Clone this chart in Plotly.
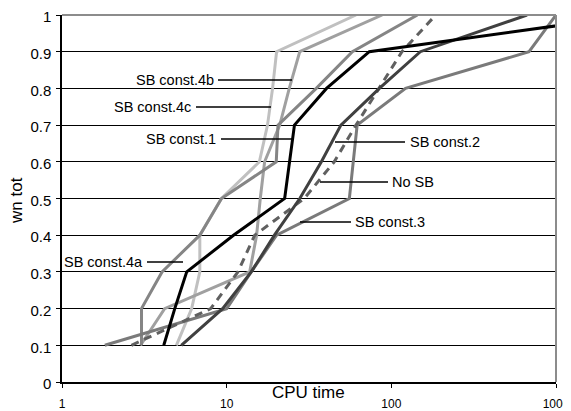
import plotly.graph_objects as go

# ---- data ----
y_levels = [0.1, 0.2, 0.3, 0.4, 0.5, 0.6, 0.7, 0.8, 0.9, 1.0]

sb_const1 = [4.15, 4.84, 5.72, 11.0, 22.5, 24.1, 25.8, 40.4, 73.5, 3000]
sb_const2 = [5.3, 9.45, 14.1, 19.5, 27.8, 37.6, 49.4, 84.6, 150, 667]
sb_const3 = [1.82, 10.0, 14.1, 20.1, 55.6, 58.8, 62, 122, 686, 1000]
no_sb = [2.64, 8.0, 11.7, 14.8, 29.6, 45, 61, 84, 116, 186]
sb_const4a = [3.04, 3.04, 4.05, 6.87, 9.3, 20.0, 20.5, 35, 58, 144]
sb_const4b = [3.0, 4.2, 13.8, 15.2, 16.0, 17.0, 21.0, 24.0, 27.8, 88]
sb_const4c = [4.95, 6.13, 6.87, 6.87, 9.3, 15.8, 17.7, 19.0, 20.1, 61]

x_tick_vals = [1, 10, 100, 1000]
x_tick_text = ["1", "10", "100", "1000"]

series = [
    ("SB const.4c", sb_const4c, "#c0c0c0", "solid"),
    ("SB const.4b", sb_const4b, "#a0a0a0", "solid"),
    ("SB const.4a", sb_const4a, "#858585", "solid"),
    ("SB const.3", sb_const3, "#7a7a7a", "solid"),
    ("No SB", no_sb, "#606060", "8px,6px"),
    ("SB const.2", sb_const2, "#404040", "solid"),
    ("SB const.1", sb_const1, "#000000", "solid"),
]

fig = go.Figure()
for name, xs, color, dash in series:
    fig.add_trace(go.Scatter(
        x=xs, y=y_levels, mode="lines", name=name,
        line=dict(color=color, width=3, dash=dash),
        showlegend=False,
    ))

# The page body has an 8px margin, so the figure is drawn 8px in from the
# window's top-left corner.  Plot area below is in window pixels.
OFF = 8
WIN_W, WIN_H = 571, 411
L, R, T, B = 62, 556, 15, 382
W, H = WIN_W - OFF, WIN_H - OFF


def xp(px):
    return (px - L) / (R - L)


def yp(py):
    return (B - py) / (B - T)


# labels: (text, anchor_px, py, align, leader_x0, leader_x1)
labels = [
    ("SB const.4b", 216, 80, "right", 218, 292),
    ("SB const.4c", 193, 107, "right", 196, 271),
    ("SB const.1", 218, 139, "right", 221, 293),
    ("SB const.2", 408, 142, "left", 335, 405),
    ("No SB", 390, 182, "left", 320, 388),
    ("SB const.3", 353, 222, "left", 300, 351),
    ("SB const.4a", 145, 262, "right", 147, 183),
]

shapes = []
annotations = []
for text, ax_px, py, align, x0, x1 in labels:
    annotations.append(dict(
        text=text, xref="paper", yref="paper", x=xp(ax_px), y=yp(py),
        xanchor=align, yanchor="middle", showarrow=False,
        font=dict(size=14.5, color="#000000"),
    ))
    shapes.append(dict(
        type="line", xref="paper", yref="paper",
        x0=xp(x0), x1=xp(x1), y0=yp(py), y1=yp(py),
        line=dict(color="#000000", width=1.5),
    ))

# top and right border (gray)
shapes.append(dict(type="line", xref="paper", yref="paper", x0=0, x1=1, y0=1, y1=1,
                   line=dict(color="#8c8c8c", width=2)))
shapes.append(dict(type="line", xref="paper", yref="paper", x0=1, x1=1, y0=0, y1=1,
                   line=dict(color="#8c8c8c", width=2)))

annotations.append(dict(
    text="CPU time", xref="paper", yref="paper", x=xp(308), y=yp(393),
    xanchor="center", yanchor="middle", showarrow=False,
    font=dict(size=17, color="#000000"),
))
annotations.append(dict(
    text="wn tot", xref="paper", yref="paper", x=xp(17), y=yp(201),
    xanchor="center", yanchor="middle", showarrow=False, textangle=-90,
    font=dict(size=17, color="#000000"),
))

fig.update_layout(
    template="none",
    width=W, height=H,
    margin=dict(l=L - OFF, r=WIN_W - R, t=T - OFF, b=WIN_H - B, autoexpand=False),
    paper_bgcolor="white", plot_bgcolor="white",
    font=dict(family="Liberation Sans, Arial, sans-serif", color="#000000"),
    shapes=shapes, annotations=annotations,
    xaxis=dict(
        type="log", range=[0, 3], tickvals=x_tick_vals, ticktext=x_tick_text,
        ticks="outside", ticklen=4, tickcolor="#000000", tickwidth=1,
        showgrid=False, showline=True, linecolor="#000000", linewidth=1.5,
        zeroline=False, tickfont=dict(size=12), ticklabelstandoff=6,
        automargin=False, ticklabeloverflow="allow",
    ),
    yaxis=dict(
        range=[0, 1], dtick=0.1, tick0=0,
        ticks="outside", ticklen=4, tickcolor="#000000", tickwidth=1,
        showgrid=True, gridcolor="#000000", gridwidth=1,
        showline=True, linecolor="#000000", linewidth=1.5,
        zeroline=False, tickfont=dict(size=15), ticklabelstandoff=2,
        ticklabelshift=2,
        automargin=False, ticklabeloverflow="allow",
    ),
)

fig.write_html("out.html")
